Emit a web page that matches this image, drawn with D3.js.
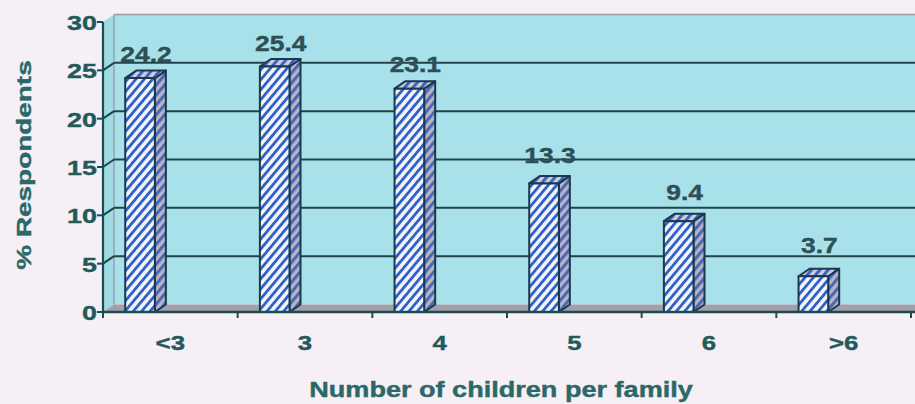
<!DOCTYPE html>
<html>
<head>
<meta charset="utf-8">
<script src="https://cdn.jsdelivr.net/npm/d3@7"></script>
<style>
  html, body { margin: 0; padding: 0; background: #f6eff6; }
  svg { display: block; }
  text { font-family: Arial, "Liberation Sans", sans-serif; font-weight: bold; }
</style>
</head>
<body>
<svg id="chart" width="915" height="404"></svg>
<script>
// Survey: family size distribution
const categories = ["<3", "3", "4", "5", "6", ">6"];
const values = [24.2, 25.4, 23.1, 13.3, 9.4, 3.7];
const yTicks = [0, 5, 10, 15, 20, 25, 30];
const yTitle = "% Respondents";
const xTitle = "Number of children per family";

const svg = d3.select("#chart");
const W = 915, H = 404;

// front plane of the 3-D box
const plotLeft = 103, plotRight = 911, plotBottom = 312, plotTop = 22;
// depth offset of the back wall
const dx = 11, dy = -7.5;

const x = d3.scaleBand().domain(categories).range([plotLeft, plotRight]).paddingInner(0).paddingOuter(0);
const y = d3.scaleLinear().domain([0, 30]).range([plotBottom, plotTop]);
// data labels sit on a slightly flatter line (3-D label placement)
const yLabel = d3.scaleLinear().domain([0, 30]).range([287, 8]);

const colors = {
  wall: "#a8e1e9",
  sideWall: "#a0dbe4",
  floor: "#a39fab",
  grid: "#1f4448",
  axis: "#1d4c50",
  tickText: "#225a5c",
  title: "#2a6869",
  label: "#2d4f55",
  barEdge: "#183a4c"
};

// wide, heavy lettering: Arial bold stretched horizontally
const STRETCH = 1.25;
function label(parent, px, py, str, opts) {
  const g = parent.append("g")
    .attr("transform", `translate(${px},${py})${opts.rotate ? ` rotate(${opts.rotate})` : ""} scale(${opts.sx || STRETCH},1)`);
  g.append("text")
    .attr("text-anchor", opts.anchor || "middle")
    .attr("font-size", opts.size)
    .attr("fill", opts.fill)
    .attr("stroke", opts.fill)
    .attr("stroke-width", 0.4)
    .text(str);
  return g;
}

const defs = svg.append("defs");
function hatch(id, bg, fg, size, stroke) {
  const p = defs.append("pattern")
    .attr("id", id)
    .attr("patternUnits", "userSpaceOnUse")
    .attr("width", size).attr("height", size)
    .attr("patternTransform", "rotate(40)");
  p.append("rect").attr("width", size).attr("height", size).attr("fill", bg);
  p.append("rect").attr("width", stroke).attr("height", size).attr("fill", fg);
}
hatch("hFront", "#f6f3fb", "#2c62c8", 6.4, 2.8);
hatch("hSide", "#b9b2c9", "#4868b0", 6.4, 3.0);
hatch("hTop", "#d2cbe0", "#3a64bd", 6.4, 3.0);

const line = d3.line();

// back wall
svg.append("rect")
  .attr("x", plotLeft + dx).attr("y", plotTop + dy)
  .attr("width", plotRight - plotLeft + 20).attr("height", plotBottom - plotTop)
  .attr("fill", colors.wall);
svg.append("line")
  .attr("x1", plotLeft + dx).attr("x2", W)
  .attr("y1", plotTop + dy).attr("y2", plotTop + dy)
  .attr("stroke", "#9c9aa8").attr("stroke-width", 1.5);

// side wall
svg.append("path")
  .attr("d", line([[plotLeft, plotBottom], [plotLeft, plotTop], [plotLeft + dx, plotTop + dy], [plotLeft + dx, plotBottom + dy]]) + "Z")
  .attr("fill", colors.sideWall);
svg.append("line")
  .attr("x1", plotLeft + dx).attr("x2", plotLeft + dx)
  .attr("y1", plotTop + dy).attr("y2", plotBottom + dy)
  .attr("stroke", "#9aa2b0").attr("stroke-width", 1.5);

// floor
svg.append("path")
  .attr("d", line([[plotLeft, plotBottom], [plotLeft + dx, plotBottom + dy], [W + 20, plotBottom + dy], [W + 20, plotBottom]]) + "Z")
  .attr("fill", colors.floor);

// gridlines on the back wall and side wall
const grid = svg.append("g");
yTicks.filter(v => v > 0 && v < 30).forEach(v => {
  grid.append("line")
    .attr("x1", plotLeft + dx).attr("x2", W)
    .attr("y1", y(v) + dy).attr("y2", y(v) + dy)
    .attr("stroke", colors.grid).attr("stroke-width", 2);
  grid.append("line")
    .attr("x1", plotLeft).attr("x2", plotLeft + dx)
    .attr("y1", y(v)).attr("y2", y(v) + dy)
    .attr("stroke", colors.grid).attr("stroke-width", 2);
});

// bars
const bw = x.bandwidth();
const barW = bw * 0.22;
const barOff = bw * 0.165;
const bars = svg.append("g");
categories.forEach((c, i) => {
  const v = values[i];
  const x0 = x(c) + barOff, x1 = x0 + barW;
  const yv = y(v), y0 = y(0);
  const g = bars.append("g")
    .attr("stroke", colors.barEdge).attr("stroke-width", 2).attr("stroke-linejoin", "round");
  g.append("path")
    .attr("d", line([[x1, y0], [x1 + dx, y0 + dy], [x1 + dx, yv + dy], [x1, yv]]) + "Z")
    .attr("fill", "url(#hSide)");
  g.append("path")
    .attr("d", line([[x0, yv], [x0 + dx, yv + dy], [x1 + dx, yv + dy], [x1, yv]]) + "Z")
    .attr("fill", "url(#hTop)");
  g.append("rect")
    .attr("x", x0).attr("y", yv)
    .attr("width", barW).attr("height", y0 - yv)
    .attr("fill", "url(#hFront)");
});

// value axis
svg.append("line")
  .attr("x1", plotLeft).attr("x2", plotLeft)
  .attr("y1", plotTop).attr("y2", plotBottom)
  .attr("stroke", colors.axis).attr("stroke-width", 2.2);
const yAxis = svg.append("g");
yTicks.forEach(v => {
  yAxis.append("line")
    .attr("x1", plotLeft - 6).attr("x2", plotLeft)
    .attr("y1", y(v)).attr("y2", y(v))
    .attr("stroke", colors.axis).attr("stroke-width", 2);
  label(yAxis, plotLeft - 6, y(v) + 8, v, { size: 21, fill: colors.tickText, anchor: "end", sx: 1.28 });
});

// category axis
svg.append("line")
  .attr("x1", plotLeft).attr("x2", W)
  .attr("y1", plotBottom).attr("y2", plotBottom)
  .attr("stroke", colors.axis).attr("stroke-width", 2.5);
const xAxis = svg.append("g");
categories.concat([null]).forEach(c => {
  const xt = c === null ? plotRight : x(c);
  xAxis.append("line")
    .attr("x1", xt).attr("x2", xt)
    .attr("y1", plotBottom).attr("y2", plotBottom + 6)
    .attr("stroke", colors.axis).attr("stroke-width", 2);
});
categories.forEach(c => {
  label(xAxis, x(c) + bw / 2, 350, c, { size: 21, fill: colors.tickText, sx: 1.23 });
});

// data labels
const dataLabels = svg.append("g");
categories.forEach((c, i) => {
  const v = values[i];
  label(dataLabels, x(c) + barOff + barW / 2 + 6, yLabel(v), v.toFixed(1),
        { size: 22, fill: colors.label, sx: 1.2 });
});

// axis titles
label(svg, 31, 165, yTitle, { size: 21, fill: colors.title, rotate: -90, sx: 1.33 });
label(svg, 501, 397, xTitle, { size: 21.5, fill: colors.title, sx: 1.26 });
</script>
</body>
</html>
